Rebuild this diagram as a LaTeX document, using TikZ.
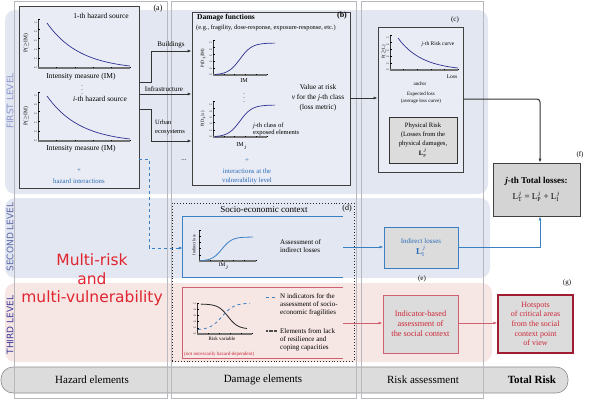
\documentclass[tikz,border=0pt]{standalone}
\usepackage{fontspec}
\setmainfont{Liberation Serif}
\newfontfamily\sansdv{DejaVu Sans}
\usetikzlibrary{arrows.meta,shadows}
\definecolor{bandblue}{HTML}{E3E7F1}
\definecolor{bandpink}{HTML}{F6E6E4}
\definecolor{boxfill}{HTML}{E9ECF4}
\definecolor{colline}{HTML}{B8B8BE}
\definecolor{mblue}{HTML}{3C80C4}
\definecolor{tblue}{HTML}{2B6CB8}
\definecolor{cblue}{HTML}{2E3192}
\definecolor{mred}{HTML}{E02530}
\definecolor{tred}{HTML}{CC2838}
\definecolor{lred}{HTML}{D06070}
\definecolor{dred}{HTML}{A01C30}
\definecolor{grayfill}{HTML}{DCDCDC}
\definecolor{totfill}{HTML}{D4D4D4}
\definecolor{lvone}{HTML}{8A94CC}
\definecolor{lvtwo}{HTML}{5A66A8}
\definecolor{lvthree}{HTML}{3A3A9A}
\newcommand\myfs[2]{\fontsize{#1}{#2}\selectfont}
\newcommand\myaxes[4]{%
  \draw[line width=0.5pt, black!80] (#1,#2) -- (#1,#3);
  \foreach \k in {0,...,5} \draw[line width=0.3pt] (#1,{#3-\k*(#3-#2)/5}) -- ++(1.5,0);
  \draw[line width=1.3pt, black!55] (#1,#3) -- (#4,#3);
  \foreach \k in {1,...,5} \draw[line width=0.3pt] ({#1+\k*(#4-#1)/5},#3) -- ++(0,-1.5);
}
\newcommand\myticklbl[3]{%
  \foreach \k/\t in {0/0.0,1/0.2,2/0.4,3/0.6,4/0.8,5/1.0}
    \node[inner sep=0pt, font=\myfs{2.2}{2.5}, anchor=east] at ({#1-0.8},{#3-\k*(#3-#2)/5}) {\t};
}
\begin{document}
\begin{tikzpicture}[x=1pt,y=-1pt,
  every node/.style={inner sep=0pt},
  box/.style={draw=black!75, line width=0.7pt, fill=boxfill},
  conn/.style={draw=black!80, line width=0.8pt, -{Latex[length=4pt,width=3pt]}},
  bconn/.style={draw=mblue, line width=1pt, -{Latex[length=4pt,width=3pt]}},
  rconn/.style={draw=lred, line width=1pt, -{Latex[length=4pt,width=3pt]}},
  curve/.style={cblue, line width=0.7pt},
  lvl/.style={rotate=90, font={\sansdv\myfs{9}{10}}},
  bottom/.style={font={\myfs{11}{12}}},
  tx/.style={font={\myfs{7}{8}}},
  sm/.style={font={\myfs{5}{6}}}
]
\useasboundingbox (0,0) rectangle (592,400);
% bands
\fill[bandblue, rounded corners=10pt] (5,10) rectangle (488,194);
\fill[bandblue, rounded corners=10pt] (5,198) rectangle (490,278);
\fill[bandpink, rounded corners=10pt] (5,283) rectangle (492,362);
\draw[fill=grayfill, draw=black!45, line width=0.6pt, rounded corners=12pt] (1,367) rectangle (568,393);
% columns
\draw[colline, line width=0.7pt] (14,1) rectangle (167,398);
\draw[colline, line width=0.7pt] (171,1) rectangle (356,398);
\draw[colline, line width=0.7pt] (361,1) rectangle (483,398);
% level labels
\node[lvl, text=lvone] (lv1) at (10,101) {FIRST LEVEL};
\node[lvl, text=lvtwo] (lv2) at (10,237) {SECOND LEVEL};
\node[lvl, text=lvthree] (lv3) at (10,325) {THIRD LEVEL};
% bottom labels
\node[bottom] (bh) at (92,380) {Hazard elements};
\node[bottom] (bd) at (263,380) {Damage elements};
\node[bottom] (br) at (423,380) {Risk assessment};
\node[bottom, font={\myfs{11}{12}\bfseries}] (bt) at (532,380) {Total Risk};
% multi-risk
\node[align=center, text=mred, font={\sansdv\myfs{15.5}{18.5}}] (mr) at (92,280) {Multi-risk\\and\\multi-vulnerability};

% ---------- box a
\node[box, minimum width=120pt, minimum height=182pt] (a) at (79,97) {};
\node[tx, font={\myfs{8}{9}}] (la) at (158,9) {(a)};
\myaxes{38}{19}{68}{130}
\myticklbl{38}{23}{68}
\draw[curve] plot[domain=0:1, samples=40, smooth] ({47+83*\x},{23+43*(1-exp(-2.5*\x))/(1-exp(-2.5))});
\node[font={\myfs{7.5}{8}}] (h1) at (101,16) {1-th hazard source};
\node[rotate=90, font={\myfs{5.5}{6}}] (pa1) at (26,43) {P($\geq$IM)};
\node[font={\myfs{7.5}{8}}] (im1) at (81,77) {Intensity measure (IM)};
\node[font={\myfs{6}{6}}] (vd1) at (82,87) {$\vdots$};
\node[font={\myfs{7.5}{8}}] (h2) at (100,99) {\textit{i}-th hazard source};
\myaxes{38}{92}{141}{130}
\myticklbl{38}{96}{141}
\draw[curve] plot[domain=0:1, samples=40, smooth] ({47+83*\x},{96+43*(1-exp(-2.5*\x))/(1-exp(-2.5))});
\node[rotate=90, font={\myfs{5.5}{6}}] (pa2) at (26,116) {P($\geq$IM)};
\node[font={\myfs{7.5}{8}}] (im2) at (81,149) {Intensity measure (IM)};
\node[text=tblue, font={\myfs{7}{8}}] (plA) at (79,171) {+};
\node[text=tblue, font={\myfs{6.8}{8}}] (hi) at (79,181) {hazard interactions};

% ---------- box b
\node[box, minimum width=158pt, minimum height=173pt] (b) at (271,98.5) {};
\node[anchor=west, font={\myfs{7.5}{8}\bfseries}] (df) at (197,18) {Damage functions};
\node[font={\myfs{8}{9}\bfseries}] (lb) at (342,16) {(b)};
\node[anchor=west, font={\myfs{6.4}{7}}] (eg) at (196,28) {(e.g., fragility, dose-response, exposure-response, etc.)};
\myaxes{213}{40}{75}{267}
\myticklbl{213}{43}{75}
\draw[curve] plot[domain=215:275, samples=50, smooth] (\x,{75-32/(1+exp(-(\x-240)/6))});
\node[rotate=90, font={\myfs{4.5}{5}}] (pb1) at (203,58) {P(D$_i$|IM)};
\node[font={\myfs{6}{7}}] (imb1) at (244,81) {IM};
\node[font={\myfs{6}{6}}] (vd2) at (244,95) {$\vdots$};
\myaxes{213}{101}{137}{267}
\myticklbl{213}{105}{137}
\draw[curve] plot[domain=215:275, samples=50, smooth] (\x,{137-32/(1+exp(-(\x-240)/6))});
\node[rotate=90, font={\myfs{4.5}{5}}] (pb2) at (203,119) {P(D$_i$|x)};
\node[font={\myfs{6}{7}}] (imb2) at (242,146) {IM$_j$};
\node[anchor=west, align=left, font={\myfs{6.5}{7.2}}] (jc) at (253,129.5) {\textit{j}-th class of\\exposed elements};
\node[text=tblue, font={\myfs{7}{8}}] (plB) at (247,161) {+};
\node[text=tblue, align=center, font={\myfs{6.8}{8.5}}] (iv) at (247,176.5) {interactions at the\\vulnerability level};
\node[align=center, font={\myfs{7.3}{10}}] (var) at (318,98) {Value at risk\\\textit{v} for the \textit{j}-th class\\(loss metric)};

% connectors a -> b
\node[font={\myfs{7}{8}}] (tb) at (171,45) {Buildings};
\node[font={\myfs{7}{8}}] (ti) at (164,89) {Infrastructure};
\node[anchor=west, align=left, font={\myfs{6.5}{9}}] (tu) at (155,127.5) {Urban\\ecosystems};
\node[font={\myfs{7}{8}}] (dots) at (184,160) {...};
\draw[conn] (a.east |- 0,82) -- (151,82) -- (151,51) -- (b.west |- 0,51);
\draw[conn] (a.east |- 0,94) -- (b.west |- 0,94);
\draw[conn] (a.east |- 0,109) -- (151,109) -- (151,141) -- (b.west |- 0,141);

% ---------- box c
\node[box, minimum width=85pt, minimum height=145pt] (c) at (420.5,99.5) {};
\node[font={\myfs{7}{8}}] (lc) at (455,20) {(c)};
\myaxes{390}{35}{70}{458}
\myticklbl{390}{38}{70}
\draw[curve] plot[domain=0:1, samples=40, smooth] ({398+60*\x},{38+30*(1-exp(-2.5*\x))/(1-exp(-2.5))});
\node[rotate=90, font={\myfs{4.5}{5}}] (pc) at (383.5,52) {P($\geq$L)};
\node[font={\myfs{5.5}{6}}] (rc) at (438,44) {\textit{j}-th Risk curve};
\node[font={\myfs{5.5}{6}}] (loss) at (452,77) {Loss};
\node[font={\myfs{5}{6}}] (ao) at (420,84) {and/or};
\node[align=center, font={\myfs{5}{7}}] (el) at (421,97.5) {Expected loss\\(average loss curve)};
\node[draw=black!80, line width=0.7pt, fill=grayfill, minimum width=68pt, minimum height=46pt, align=center, font={\myfs{6.6}{9}}] (pr) at (423,140)
  {Physical Risk\\(Losses from the\\physical damages,\\[1pt]\textbf{L}$^{j}_{\mathrm{P}}$};
\draw[conn] (b.east |- 0,98) -- (c.west |- 0,98);

% ---------- box f
\node[draw=black!75, line width=0.8pt, fill=totfill, drop shadow={opacity=0.45, shadow xshift=1pt, shadow yshift=-1pt}, minimum width=87pt, minimum height=53pt, align=center, font={\myfs{9}{16}}] (f) at (536.5,189.5)
  {\textbf{\textit{j}-th Total losses:}\\L$^{j}_{\mathrm{T}}$ = L$^{j}_{\mathrm{P}}$ + L$^{j}_{\mathrm{I}}$};
\node[font={\myfs{7}{8}}] (lf) at (580,155) {(f)};
\draw[conn, line width=1pt, rounded corners=3pt] (c.east |- 0,99) -- (540,99) -- (f.north -| 540,0);

% ---------- second level
\node[draw=black!85, dotted, line width=0.9pt, minimum width=182pt, minimum height=158pt] (d) at (263,282) {};
\node[font={\myfs{9}{10}}] (sec) at (264,210) {Socio-economic context};
\node[font={\myfs{8}{9}}] (ld) at (347,209) {(d)};
\node[minimum width=160pt, minimum height=60pt] (se) at (263,247) {};
\draw[mblue, line width=1.1pt] (se.north east) -- (se.north west) -- (se.south west) -- (se.south east);
\myaxes{199}{230}{261}{256}
\draw[mblue, line width=0.8pt] plot[domain=201:253, samples=50, smooth] (\x,{261-24/(1+exp(-(\x-222)/5))});
\node[rotate=90, font={\myfs{4.2}{5}}] (pd) at (194,245) {Indirect loss};
\node[font={\myfs{5.5}{6}}] (imd) at (224,266) {IM$_j$};
\node[anchor=west, align=left, font={\myfs{7}{8}}] (ail) at (280,246) {Assessment of\\indirect losses};
\node[draw=mblue, line width=1pt, fill=grayfill, minimum width=74pt, minimum height=41pt, align=center, text=tblue, font={\myfs{7}{11}}] (il) at (421,247.5)
  {Indirect losses\\{\myfs{9}{11}\textbf{L}$^{j}_{\mathrm{I}}$}};
\node[font={\myfs{7}{8}}] (le) at (422,279) {(e)};
\draw[bconn, dashed, line width=1pt] (a.east |- 0,159) -- (149,159) -- (149,248) -- (se.west |- 0,248);
\draw[bconn] (se.east |- 0,247) -- (il.west |- 0,247);
\draw[bconn] (il.east |- 0,247) -- (540,247) -- (f.south -| 540,0);

% ---------- third level
\node[minimum width=160pt, minimum height=70pt] (sv) at (263,323) {};
\draw[lred, line width=1.1pt] (sv.north east) -- (sv.north west) -- (sv.south west) -- (sv.south east);
\myaxes{197}{303}{334}{252}
\myticklbl{197}{304}{334}
\draw[black!85, line width=0.8pt] plot[domain=201:247, samples=50, smooth] (\x,{304+25/(1+exp(-(\x-228)/5))});
\draw[mblue, dashed, line width=0.8pt] plot[domain=198:250, samples=50, smooth] (\x,{330-27/(1+exp(-(\x-222)/6))});
\node[font={\myfs{5}{6}}] (rv) at (222,338.5) {Risk variable};
\node[anchor=west, text=tred, font={\myfs{5}{6}}] (nn) at (184,354) {(not necessarily hazard-dependent)};
\draw[mblue, dashed, line width=0.8pt] (266,297) -- (277,297);
\draw[black!70, line width=1.5pt, dash pattern=on 2pt off 0.6pt] (266,331) -- (277,331);
\node[anchor=west, align=left, font={\myfs{7}{8}}] (ni) at (280,305) {N indicators for the\\assessment of socio-\\economic fragilities};
\node[anchor=west, align=left, font={\myfs{7}{8}}] (ef) at (280,340) {Elements from lack\\of resilience and\\coping capacities};
\node[draw=lred, line width=1pt, fill=grayfill, minimum width=75pt, minimum height=58pt, align=center, text=tred, font={\myfs{8.3}{10}}] (ib) at (420.5,324)
  {Indicator-based\\assessment of\\the social context};
\node[draw=dred, line width=1.3pt, fill=grayfill, drop shadow={opacity=0.45, shadow xshift=1pt, shadow yshift=-1pt}, minimum width=75pt, minimum height=58pt, align=center, text=tred, font={\myfs{8}{9.7}}] (hs) at (535.5,324)
  {Hotspots\\of critical areas\\from the social\\context point\\of view};
\node[font={\myfs{7}{8}}] (lg) at (567,283) {(g)};
\draw[rconn] (sv.east |- 0,323) -- (ib.west |- 0,323);
\draw[rconn] (ib.east |- 0,323) -- (hs.west |- 0,323);
\end{tikzpicture}
\end{document}
